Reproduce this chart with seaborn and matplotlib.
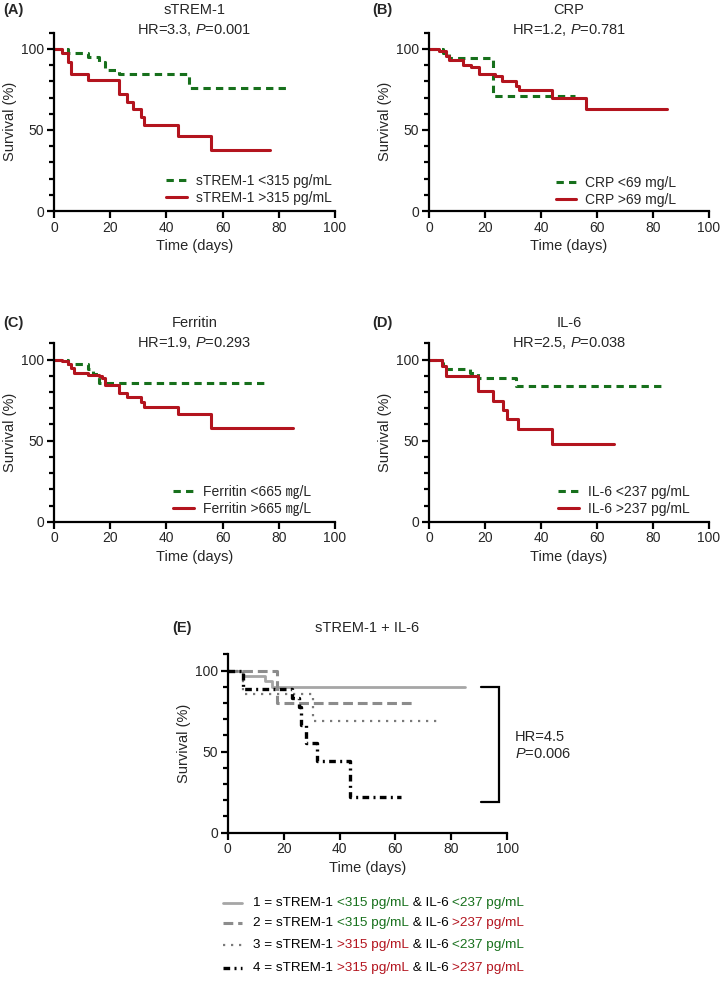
import pandas as pd
import seaborn as sns
import matplotlib.pyplot as plt
from matplotlib.lines import Line2D
from matplotlib.ticker import MultipleLocator

# survival curves: time (days) and survival (%)
a_low_t = [0, 5, 12, 16, 18, 23, 48, 84]
a_low_s = [100, 97.4, 94.8, 92.2, 87.0, 84.6, 75.7, 75.7]
a_high_t = [0, 3, 5, 6, 12, 23, 26, 28, 31, 32, 44, 56, 77]
a_high_s = [100, 97.3, 92.0, 84.6, 80.9, 72.0, 67.5, 62.8, 58.2, 53.0, 46.5, 37.7, 37.7]

b_low_t = [0, 5, 7, 23, 52]
b_low_s = [100, 97.5, 94.4, 70.7, 70.7]
b_high_t = [0, 3.5, 6, 7, 12, 15, 18, 23.5, 26, 31, 32, 44, 56, 85]
b_high_s = [100, 99, 95.5, 93.4, 90.3, 88.9, 84.5, 83.0, 80.0, 77.0, 74.4, 69.7, 62.9, 62.9]

c_low_t = [0, 5, 12, 14, 16, 75]
c_low_s = [100, 97.4, 94.0, 91.0, 85.7, 85.7]
c_high_t = [0, 3, 5, 6, 7, 12, 16, 17, 18, 23, 26, 31, 32, 44, 56, 85]
c_high_s = [100, 99, 97, 95, 92, 90.7, 90, 88.7, 84.5, 79.6, 76.9, 73.6, 70.7, 66.4, 58.0, 58.0]

d_low_t = [0, 4.5, 5, 14.6, 17.6, 31, 84]
d_low_s = [100, 97.9, 94.2, 91.8, 88.7, 83.5, 83.5]
d_high_t = [0, 4.5, 6, 17.6, 23, 26.3, 28, 31.7, 44, 66]
d_high_s = [100, 95.9, 90.0, 80.4, 74.6, 69.0, 63.3, 57.3, 47.8, 47.8]

e1_t = [0, 5.6, 13.4, 15.7, 85]
e1_s = [100, 96.5, 93.5, 89.8, 89.8]
e2_t = [0, 17.5, 66]
e2_s = [100, 80.2, 80.2]
e3_t = [0, 5.6, 30.6, 76]
e3_s = [100, 85.7, 68.6, 68.6]
e4_t = [0, 5.6, 23, 25.6, 26.2, 28, 31.8, 43.8, 62]
e4_s = [100, 88.9, 83.3, 77.8, 66.7, 55.6, 44.4, 22.2, 22.2]

titles = ["sTREM-1", "CRP", "Ferritin", "IL-6"]
panel_tags = ["(A)", "(B)", "(C)", "(D)"]
hr_texts = [r"HR=3.3, $\mathit{P}$=0.001", r"HR=1.2, $\mathit{P}$=0.781",
            r"HR=1.9, $\mathit{P}$=0.293", r"HR=2.5, $\mathit{P}$=0.038"]
low_labels = ["sTREM-1 <315 pg/mL", "CRP <69 mg/L", "Ferritin <665 ㎎/L", "IL-6 <237 pg/mL"]
high_labels = ["sTREM-1 >315 pg/mL", "CRP >69 mg/L", "Ferritin >665 ㎎/L", "IL-6 >237 pg/mL"]

e_title = "sTREM-1 + IL-6"
e_hr = ["HR=4.5", r"$\mathit{P}$=0.006"]
e_rows = [
    [("1 = sTREM-1 ", "k"), ("<315 pg/mL", "g"), (" & IL-6 ", "k"), ("<237 pg/mL", "g")],
    [("2 = sTREM-1 ", "k"), ("<315 pg/mL", "g"), (" & IL-6 ", "k"), (">237 pg/mL", "r")],
    [("3 = sTREM-1 ", "k"), (">315 pg/mL", "r"), (" & IL-6 ", "k"), ("<237 pg/mL", "g")],
    [("4 = sTREM-1 ", "k"), (">315 pg/mL", "r"), (" & IL-6 ", "k"), (">237 pg/mL", "r")],
]

GREEN = "#17701c"
RED = "#b3141e"
cmap = {"k": "black", "g": GREEN, "r": RED}

sns.set_style("ticks")
plt.rcParams["font.family"] = ["Liberation Sans", "Noto Sans CJK JP", "DejaVu Sans"]
plt.rcParams["mathtext.fontset"] = "custom"
plt.rcParams["mathtext.rm"] = "Liberation Sans"
plt.rcParams["mathtext.it"] = "Liberation Sans:italic"
plt.rcParams["font.size"] = 10


def km(ax, t, s, color, ls, lw, label=None):
    df = pd.DataFrame({"Time": t, "Survival": s})
    sns.lineplot(data=df, x="Time", y="Survival", ax=ax, color=color,
                 linestyle=ls, linewidth=lw, drawstyle="steps-post",
                 estimator=None, sort=False, label=label)


def style_axes(ax):
    ax.set_xlim(0, 100)
    ax.set_ylim(0, 110)
    ax.set_xticks([0, 20, 40, 60, 80, 100])
    ax.set_yticks([0, 50, 100])
    ax.yaxis.set_minor_locator(MultipleLocator(10))
    sns.despine(ax=ax)
    for sp in ["left", "bottom"]:
        ax.spines[sp].set_linewidth(1.6)
        ax.spines[sp].set_color("black")
    ax.tick_params(which="major", length=5, width=1.6, pad=2, labelsize=10, color="black")
    ax.tick_params(which="minor", length=3.5, width=1.6, color="black")
    ax.set_xlabel("Time (days)", fontsize=10.5, labelpad=3)
    ax.set_ylabel("Survival (%)", fontsize=10.5, labelpad=3)


fig = plt.figure(figsize=(7.2, 10.02), dpi=100)

rects = [[0.075, 0.7894, 0.3903, 0.178], [0.5958, 0.7894, 0.3889, 0.178],
         [0.075, 0.4793, 0.3903, 0.178], [0.5958, 0.4793, 0.3889, 0.178]]
title_y = [0.990, 0.990, 0.6776, 0.6776]
hr_y = [0.970, 0.970, 0.6577, 0.6577]
tag_x = [0.004, 0.517, 0.004, 0.517]
leg_anchor = [(0.40, 0.035), (0.452, 0.025), (0.425, 0.032), (0.462, 0.032)]
curves = [(a_low_t, a_low_s, a_high_t, a_high_s), (b_low_t, b_low_s, b_high_t, b_high_s),
          (c_low_t, c_low_s, c_high_t, c_high_s), (d_low_t, d_low_s, d_high_t, d_high_s)]

for i in range(4):
    ax = fig.add_axes(rects[i])
    lt, ls_, ht, hs = curves[i]
    km(ax, lt, ls_, GREEN, (0, (2.4, 1.7)), 2.2, low_labels[i])
    km(ax, ht, hs, RED, "-", 2.2, high_labels[i])
    style_axes(ax)
    ax.legend(loc="lower left", bbox_to_anchor=leg_anchor[i], frameon=False,
              handlelength=1.5, handletextpad=0.65, labelspacing=0.2,
              borderpad=0, borderaxespad=0, fontsize=10)
    cx = rects[i][0] + rects[i][2] / 2
    fig.text(cx, title_y[i], titles[i], ha="center", va="center", fontsize=10.5)
    fig.text(cx, hr_y[i], hr_texts[i], ha="center", va="center", fontsize=10.5)
    fig.text(tag_x[i], title_y[i], panel_tags[i], ha="left", va="center",
             fontsize=10.5, fontweight="bold")

# panel E
axe = fig.add_axes([0.3163, 0.169, 0.3883, 0.178])
km(axe, e1_t, e1_s, "#a6a6a6", "-", 2.0)
km(axe, e2_t, e2_s, "#8c8c8c", (0, (3.2, 1.6)), 2.2)
km(axe, e3_t, e3_s, "#7a7a7a", (0, (1, 2.6)), 1.6)
km(axe, e4_t, e4_s, "black", (0, (2.0, 1.3, 0.6, 1.3)), 2.4)
style_axes(axe)
if axe.get_legend() is not None:
    axe.get_legend().remove()

# bracket and HR text for E
axe.plot([90.6, 96.9, 96.9, 90.6], [89.7, 89.7, 19.2, 19.2], color="black",
         lw=1.6, clip_on=False, solid_joinstyle="miter")
axe.text(102.8, 59.2, e_hr[0], ha="left", va="center", fontsize=10.5, clip_on=False)
axe.text(102.8, 48.7, e_hr[1], ha="left", va="center", fontsize=10.5, clip_on=False)

ecx = 0.3163 + 0.3883 / 2
fig.text(ecx, 1 - 628 / 1002, e_title, ha="center", va="center", fontsize=10.5)
fig.text(172 / 720, 1 - 628 / 1002, "(E)", ha="left", va="center",
         fontsize=10.5, fontweight="bold")

# E legend with coloured label pieces
e_handles = [("#a6a6a6", "-", 2.0), ("#8c8c8c", (0, (3.2, 1.6)), 2.2),
             ("#7a7a7a", (0, (1, 2.6)), 1.6), ("black", (0, (2.0, 1.3, 0.6, 1.3)), 2.4)]
row_y = [903.3, 923.3, 945, 968.3]
fig.canvas.draw()
renderer = fig.canvas.get_renderer()
W = 720.0
for (c, lsty, lw), y, pieces in zip(e_handles, row_y, e_rows):
    yf = 1 - y / 1002
    fig.add_artist(Line2D([223 / W, 242 / W], [yf, yf], color=c, linestyle=lsty, lw=lw))
    x = 253 / W
    for txt, col in pieces:
        t = fig.text(x, yf, txt, color=cmap[col], ha="left", va="center", fontsize=9.7)
        w = t.get_window_extent(renderer=renderer).width
        x += w / W

fig.savefig("out.png", dpi=100)
